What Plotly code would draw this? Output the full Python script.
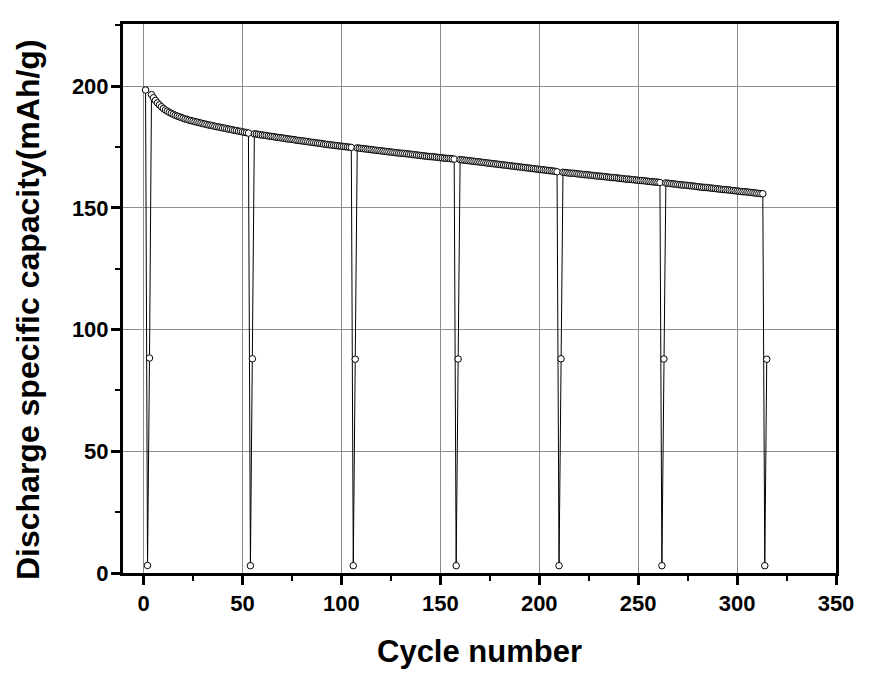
import plotly.graph_objects as go

# ---- data ----
first_cycle_capacity = [198.4]
dip_low = [3.1, 3.0, 3.0, 3.0, 3.0, 3.0, 3.0]
dip_recover = [88.3, 88.0, 87.8, 87.9, 88.0, 87.9, 87.8]

stage1 = [196.5, 195.2, 194.1, 193.1, 192.3, 191.5, 190.8, 190.2, 189.7, 189.2,
          188.8, 188.4, 188.0, 187.7, 187.4, 187.1, 186.8, 186.5, 186.3, 186.0,
          185.8, 185.6, 185.4, 185.2, 185.0, 184.8, 184.6, 184.4, 184.2, 184.0,
          183.9, 183.7, 183.5, 183.3, 183.2, 183.0, 182.8, 182.7, 182.5, 182.3,
          182.2, 182.0, 181.8, 181.7, 181.5, 181.4, 181.2, 181.0, 180.9, 180.7]
stage2 = [180.4, 180.3, 180.2, 180.0, 179.9, 179.8, 179.7, 179.5, 179.4, 179.3,
          179.2, 179.0, 178.9, 178.8, 178.7, 178.6, 178.4, 178.3, 178.2, 178.1,
          178.0, 177.8, 177.7, 177.6, 177.5, 177.4, 177.3, 177.2, 177.0, 176.9,
          176.8, 176.7, 176.6, 176.5, 176.4, 176.2, 176.1, 176.0, 175.9, 175.8,
          175.7, 175.6, 175.5, 175.4, 175.3, 175.2, 175.1, 175.0, 174.9, 174.8]
stage3 = [174.6, 174.5, 174.4, 174.3, 174.2, 174.1, 174.0, 173.9, 173.8, 173.7,
          173.6, 173.5, 173.4, 173.3, 173.2, 173.1, 173.0, 172.9, 172.8, 172.7,
          172.6, 172.5, 172.4, 172.4, 172.3, 172.2, 172.1, 172.0, 171.9, 171.8,
          171.7, 171.6, 171.5, 171.4, 171.3, 171.2, 171.1, 171.0, 171.0, 170.9,
          170.8, 170.7, 170.6, 170.5, 170.4, 170.3, 170.3, 170.2, 170.1, 170.0]
stage4 = [169.8, 169.7, 169.6, 169.5, 169.4, 169.3, 169.2, 169.1, 169.0, 168.9,
          168.8, 168.7, 168.6, 168.5, 168.4, 168.3, 168.2, 168.1, 168.0, 167.9,
          167.8, 167.7, 167.6, 167.5, 167.4, 167.3, 167.2, 167.1, 167.0, 166.9,
          166.8, 166.7, 166.6, 166.5, 166.4, 166.3, 166.2, 166.1, 166.0, 165.9,
          165.8, 165.7, 165.6, 165.5, 165.4, 165.3, 165.2, 165.1, 165.0, 164.8]
stage5 = [164.6, 164.5, 164.4, 164.3, 164.2, 164.2, 164.1, 164.0, 163.9, 163.8,
          163.7, 163.6, 163.6, 163.5, 163.4, 163.3, 163.2, 163.1, 163.0, 163.0,
          162.9, 162.8, 162.7, 162.6, 162.5, 162.4, 162.4, 162.3, 162.2, 162.1,
          162.0, 161.9, 161.8, 161.8, 161.7, 161.6, 161.5, 161.4, 161.3, 161.2,
          161.2, 161.1, 161.0, 160.9, 160.8, 160.7, 160.6, 160.6, 160.5, 160.4]
stage6 = [160.2, 160.1, 160.0, 159.9, 159.8, 159.7, 159.6, 159.5, 159.4, 159.3,
          159.3, 159.2, 159.1, 159.0, 158.9, 158.8, 158.7, 158.6, 158.5, 158.4,
          158.4, 158.3, 158.2, 158.1, 158.0, 157.9, 157.8, 157.7, 157.6, 157.5,
          157.5, 157.4, 157.3, 157.2, 157.1, 157.0, 156.9, 156.8, 156.7, 156.6,
          156.6, 156.5, 156.4, 156.3, 156.2, 156.1, 156.0, 155.9, 155.8, 155.8]

x_ticks = [0, 50, 100, 150, 200, 250, 300, 350]
y_ticks = [0, 50, 100, 150, 200]
x_title = "Cycle number"
y_title = "Discharge specific capacity(mAh/g)"

stages = [stage1, stage2, stage3, stage4, stage5, stage6]
capacity = list(first_cycle_capacity)
for i in range(7):
    capacity += [dip_low[i], dip_recover[i]]
    if i < 6:
        capacity += stages[i]
cycle = list(range(1, len(capacity) + 1))

FONT = "Liberation Sans, Arial, sans-serif"

fig = go.Figure()
fig.add_trace(go.Scatter(
    x=cycle, y=capacity, mode="lines+markers",
    line=dict(color="black", width=1),
    marker=dict(symbol="circle", size=6.5, color="white",
                line=dict(color="black", width=1)),
    showlegend=False,
))

axis_common = dict(
    showline=True, linecolor="black", linewidth=3, mirror=True,
    ticks="outside", tickcolor="black", tickwidth=2.5, ticklen=9,
    showgrid=True, gridcolor="#8c8c8c", gridwidth=1,
    zeroline=False,
    tickfont=dict(family=FONT, size=22, color="black", weight="bold"),
    minor=dict(ticks="outside", ticklen=5, tickwidth=2, tickcolor="black", showgrid=False),
)

fig.update_xaxes(
    range=[-10.4, 350], tickvals=x_ticks, ticktext=[str(v) for v in x_ticks],
    minor_dtick=25, minor_tick0=0,
    **axis_common,
)
fig.update_yaxes(
    range=[0, 225.5], tickvals=y_ticks, ticktext=[str(v) for v in y_ticks],
    minor_dtick=25, minor_tick0=0, ticklabelstandoff=-2,
    **axis_common,
)

fig.update_layout(
    width=883, height=684,
    margin=dict(l=123, r=47, t=24, b=111),
    paper_bgcolor="white", plot_bgcolor="white",
    annotations=[
        dict(text=x_title, xref="paper", yref="paper", x=0.5, y=-0.1427,
             xanchor="center", yanchor="middle", showarrow=False,
             font=dict(family=FONT, size=31, color="black", weight="bold")),
        dict(text=y_title, xref="paper", yref="paper", x=-0.1332, y=0.479,
             xanchor="center", yanchor="middle", showarrow=False, textangle=-90,
             font=dict(family=FONT, size=32, color="black", weight="bold")),
    ],
)

fig.write_html("out.html")
